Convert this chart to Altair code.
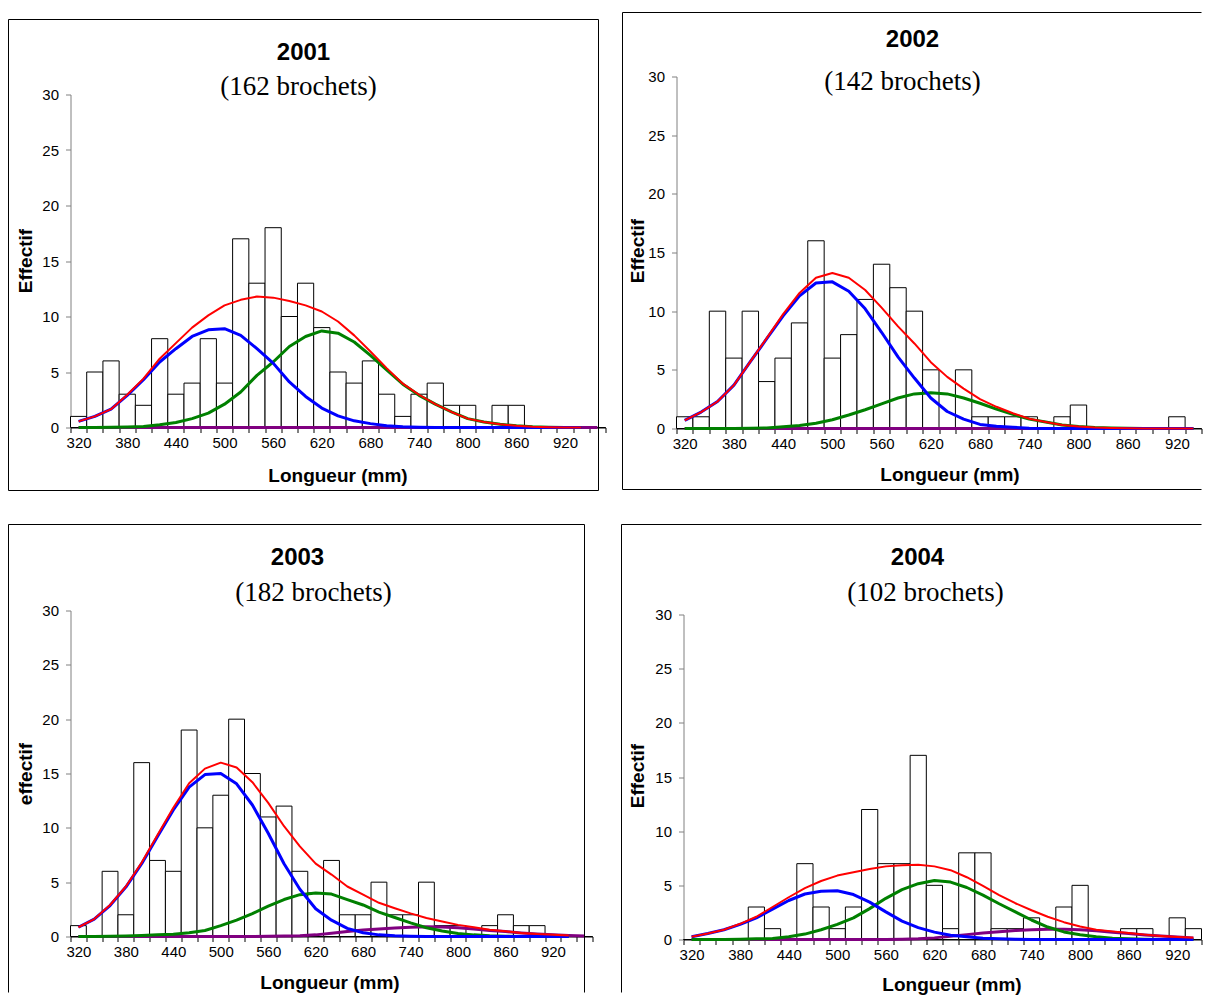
import altair as alt
import pandas as pd

# ---------------- data ----------------
CATS = [320, 340, 360, 380, 400, 420, 440, 460, 480, 500, 520, 540, 560, 580, 600, 620,
        640, 660, 680, 700, 720, 740, 760, 780, 800, 820, 840, 860, 880, 900, 920, 940, 960]

YEARS = ["2001", "2002", "2003", "2004"]
SUBTITLES = ["(162 brochets)", "(142 brochets)", "(182 brochets)", "(102 brochets)"]
YTITLES = ["Effectif", "Effectif", "effectif", "Effectif"]
XTITLE = "Longueur (mm)"
YTICKS = [0, 5, 10, 15, 20, 25, 30]

# 2001
N_2001 = [1, 5, 6, 3, 2, 8, 3, 4, 8, 4, 17, 13, 18, 10, 13, 9, 5, 4, 6, 3, 1, 3, 4, 2, 2, 0, 2, 2, 0, 0, 0, 0, 0]
BLUE_2001 = [0.55, 1.0, 1.65, 2.9, 4.3, 5.9, 7.1, 8.2, 8.8, 8.9, 8.3, 7.1, 5.8, 4.1, 2.8, 1.75, 1.05, 0.6, 0.35,
             0.15, 0.07, 0.03, 0.01, 0, 0, 0, 0, 0, 0, 0, 0, 0]
GREEN_2001 = [0, 0, 0.02, 0.05, 0.1, 0.25, 0.45, 0.8, 1.3, 2.1, 3.2, 4.7, 5.9, 7.3, 8.2, 8.7, 8.5, 7.7, 6.5, 5.2,
              3.9, 2.9, 2.1, 1.4, 0.8, 0.5, 0.3, 0.15, 0.07, 0.03, 0.01, 0]
PURPLE_2001 = [0] * 33
RED_2001 = [0.55, 1.0, 1.65, 2.95, 4.4, 6.2, 7.6, 9.0, 10.1, 11.0, 11.5, 11.8, 11.7, 11.4, 11.0, 10.45, 9.55, 8.3,
            6.85, 5.35, 3.95, 2.95, 2.1, 1.4, 0.8, 0.5, 0.3, 0.15, 0.07, 0.03, 0.01, 0]

# 2002
N_2002 = [1, 1, 10, 6, 10, 4, 6, 9, 16, 6, 8, 11, 14, 12, 10, 5, 0, 5, 1, 1, 1, 1, 0, 1, 2, 0, 0, 0, 0, 0, 1, 0]
BLUE_2002 = [0.7, 1.4, 2.3, 3.7, 5.7, 7.65, 9.6, 11.3, 12.4, 12.5, 11.7, 10.2, 8.2, 6.1, 4.3, 2.6, 1.45, 0.8, 0.35,
             0.2, 0.1, 0.03, 0, 0, 0, 0, 0, 0, 0, 0, 0, 0]
GREEN_2002 = [0, 0, 0, 0.01, 0.02, 0.05, 0.15, 0.25, 0.45, 0.75, 1.15, 1.6, 2.1, 2.6, 2.95, 3.05, 2.95, 2.6, 2.15,
              1.65, 1.2, 0.8, 0.55, 0.3, 0.17, 0.08, 0.04, 0.02, 0.01, 0, 0, 0]
PURPLE_2002 = [0] * 32
RED_2002 = [0.7, 1.4, 2.3, 3.7, 5.7, 7.7, 9.75, 11.55, 12.85, 13.25, 12.85, 11.8, 10.3, 8.7, 7.25, 5.65, 4.4, 3.4,
            2.5, 1.85, 1.3, 0.83, 0.55, 0.3, 0.17, 0.08, 0.04, 0.02, 0.01, 0, 0, 0]

# 2003
N_2003 = [1, 0, 6, 2, 16, 7, 6, 19, 10, 13, 20, 15, 11, 12, 6, 4, 7, 2, 2, 5, 2, 2, 5, 1, 1, 0, 1, 2, 1, 1, 0, 0, 0]
BLUE_2003 = [0.85, 1.6, 2.85, 4.55, 6.7, 9.2, 11.65, 13.75, 14.9, 15.0, 14.05, 12.1, 9.5, 6.7, 4.35, 2.55, 1.5,
             0.75, 0.35, 0.15, 0.07, 0.03, 0, 0, 0, 0, 0, 0, 0, 0, 0, 0]
GREEN_2003 = [0, 0, 0.02, 0.05, 0.1, 0.15, 0.2, 0.35, 0.55, 1.0, 1.5, 2.1, 2.8, 3.4, 3.85, 4.0, 3.9, 3.4, 2.9, 2.25,
              1.75, 1.25, 0.8, 0.5, 0.27, 0.15, 0.07, 0.03, 0.01, 0, 0, 0]
PURPLE_2003 = [0, 0, 0, 0, 0, 0, 0, 0, 0, 0, 0, 0, 0.02, 0.05, 0.08, 0.15, 0.3, 0.45, 0.6, 0.7, 0.78, 0.85, 0.9,
               0.88, 0.8, 0.7, 0.55, 0.45, 0.32, 0.22, 0.15, 0.1, 0.05]
RED_2003 = [0.85, 1.6, 2.9, 4.6, 6.8, 9.35, 11.85, 14.1, 15.45, 16.0, 15.55, 14.2, 12.3, 10.15, 8.3, 6.7, 5.7, 4.6,
            3.85, 3.1, 2.6, 2.13, 1.7, 1.38, 1.07, 0.85, 0.62, 0.48, 0.33, 0.22, 0.15, 0.1]

# 2004
N_2004 = [0, 0, 0, 0, 3, 1, 0, 7, 3, 1, 3, 12, 7, 7, 17, 5, 1, 8, 8, 1, 1, 2, 1, 3, 5, 0, 0, 1, 1, 0, 2, 1]
BLUE_2004 = [0.25, 0.55, 0.9, 1.4, 2.0, 2.8, 3.6, 4.2, 4.45, 4.5, 4.15, 3.45, 2.55, 1.7, 1.1, 0.68, 0.4, 0.25, 0.12,
             0.06, 0.03, 0.01, 0, 0, 0, 0, 0, 0, 0, 0, 0, 0]
GREEN_2004 = [0, 0, 0.01, 0.03, 0.06, 0.1, 0.25, 0.5, 0.9, 1.4, 2.0, 2.85, 3.8, 4.6, 5.15, 5.45, 5.3, 4.8, 4.1, 3.3,
              2.55, 1.8, 1.15, 0.7, 0.43, 0.25, 0.12, 0.06, 0.03, 0.01, 0, 0]
PURPLE_2004 = [0, 0, 0, 0, 0, 0, 0, 0, 0, 0, 0, 0, 0, 0.02, 0.06, 0.15, 0.3, 0.45, 0.6, 0.72, 0.82, 0.9, 0.95, 0.95,
               0.9, 0.8, 0.68, 0.55, 0.42, 0.32, 0.23, 0.15]
RED_2004 = [0.25, 0.55, 0.9, 1.45, 2.1, 3.0, 3.9, 4.75, 5.4, 5.9, 6.2, 6.5, 6.75, 6.85, 6.9, 6.75, 6.4, 5.75, 4.95,
            4.1, 3.35, 2.7, 2.1, 1.6, 1.2, 0.9, 0.75, 0.6, 0.45, 0.33, 0.23, 0.16]

COLORS = {"purple": "#800080", "green": "#008000", "blue": "#0000FF", "red": "#FF0000"}
WIDTHS = {"purple": 3, "green": 3, "blue": 3, "red": 2}

SANS = "Liberation Sans"
SERIF = "Liberation Serif"


def one(val=0):
    return pd.DataFrame({"d": [val]})


def panel(ncat, counts, series, year, sub, ytitle, g):
    cats = CATS[:ncat]
    xs_kw = dict(domain=cats, paddingInner=0, paddingOuter=0)
    if g.get("xrange"):
        xs_kw["range"] = g["xrange"]
    ys_kw = dict(domain=[0, 30])
    if g.get("yrange"):
        ys_kw["range"] = g["yrange"]
    xs = alt.Scale(**xs_kw)
    ys = alt.Scale(**ys_kw)

    xaxis = alt.Axis(
        title=XTITLE, titleFont=SANS, titleFontSize=19, titleFontWeight="bold", titleColor="black",
        titleX=g["xt"][0], titleY=g["xt"][1], titleAlign="center", titleBaseline="middle", titleAngle=0,
        labelExpr="datum.value % 60 == 20 ? datum.label : ''", labelAngle=0, labelOverlap=False,
        labelFont=SANS, labelFontSize=15, labelColor="black", labelPadding=3,
        tickBand="extent", tickSize=5, tickColor="black", domainColor="black", grid=False,
    )
    yaxis_kw = dict(
        values=YTICKS, title=ytitle, titleFont=SANS, titleFontSize=19, titleFontWeight="bold",
        titleColor="black", titleAngle=270, titleX=g["yt"][0], titleY=g["yt"][1], titleAlign="center",
        titleBaseline="middle", labelFont=SANS, labelFontSize=15, labelColor="black", labelPadding=7,
        tickSize=5, tickColor="#808080", domainColor="#808080", grid=False,
    )
    if g.get("yoffset"):
        yaxis_kw["offset"] = g["yoffset"]
    yaxis = alt.Axis(**yaxis_kw)

    bars_df = pd.DataFrame({"L": cats, "n": counts})
    bars = alt.Chart(bars_df).mark_bar(fill="white", stroke="black", strokeWidth=1).encode(
        x=alt.X("L:O", scale=xs, axis=xaxis),
        y=alt.Y("n:Q", scale=ys, axis=yaxis),
    )
    layers = [bars]
    for name in ["purple", "green", "blue", "red"]:
        vals = series[name]
        df = pd.DataFrame({"L": cats[:len(vals)], "v": vals})
        layers.append(
            alt.Chart(df).mark_line(color=COLORS[name], strokeWidth=WIDTHS[name], strokeJoin="round").encode(
                x=alt.X("L:O", scale=xs, axis=xaxis),
                y=alt.Y("v:Q", scale=ys, axis=yaxis),
            )
        )
    # titles
    layers.append(
        alt.Chart(pd.DataFrame({"t": [year]})).mark_text(
            font=SANS, fontSize=24, fontWeight="bold", align="center", baseline="middle", color="black"
        ).encode(text="t:N", x=alt.value(g["title"][0]), y=alt.value(g["title"][1]))
    )
    layers.append(
        alt.Chart(pd.DataFrame({"t": [sub]})).mark_text(
            font=SERIF, fontSize=27, align="center", baseline="middle", color="black"
        ).encode(text="t:N", x=alt.value(g["sub"][0]), y=alt.value(g["sub"][1]))
    )
    # frame
    if g.get("rect"):
        x1, x2, y1, y2 = g["rect"]
        layers.append(
            alt.Chart(one()).mark_rect(fill="transparent", stroke="black", strokeWidth=1).encode(
                x=alt.value(x1), x2=alt.value(x2), y=alt.value(y1), y2=alt.value(y2)
            )
        )
    for (x1, x2, y1, y2) in g.get("rules", []):
        layers.append(
            alt.Chart(one()).mark_rule(color="black", strokeWidth=1).encode(
                x=alt.value(x1), x2=alt.value(x2), y=alt.value(y1), y2=alt.value(y2)
            )
        )
    return alt.layer(*layers).properties(width=g["W"], height=g["H"])


g1 = dict(W=535, H=351, yrange=[351, 18], title=(233, -24), sub=(228, 10), yt=(-45, 184), xt=(267, 48),
          rect=(-62, 528, -57, 414))
g2 = dict(W=525, H=352, title=(236, -37), sub=(226, 5), yt=(-39, 174), xt=(273, 46),
          rules=[(-54, -54, -64, 413), (-54, 525, -64, -64), (-54, 525, 413, 413)])
g3 = dict(W=522, H=326, title=(227, -53), sub=(243, -18), yt=(-45, 163), xt=(259, 46),
          rules=[(-62, -62, -86, 382), (-62, 514, -86, -86), (514, 514, -86, 382)])
g4 = dict(W=525, H=329, xrange=[7, 525], yrange=[329, 4], yoffset=-7, title=(241, -53), sub=(249, -18),
          yt=(-46, 165), xt=(275, 45),
          rules=[(-55, -55, -86, 382), (-55, 525, -86, -86)])

p1 = panel(33, N_2001, {"blue": BLUE_2001, "green": GREEN_2001, "purple": PURPLE_2001, "red": RED_2001},
           YEARS[0], SUBTITLES[0], YTITLES[0], g1)
p2 = panel(32, N_2002, {"blue": BLUE_2002, "green": GREEN_2002, "purple": PURPLE_2002, "red": RED_2002},
           YEARS[1], SUBTITLES[1], YTITLES[1], g2)
p3 = panel(33, N_2003, {"blue": BLUE_2003, "green": GREEN_2003, "purple": PURPLE_2003, "red": RED_2003},
           YEARS[2], SUBTITLES[2], YTITLES[2], g3)
p4 = panel(32, N_2004, {"blue": BLUE_2004, "green": GREEN_2004, "purple": PURPLE_2004, "red": RED_2004},
           YEARS[3], SUBTITLES[3], YTITLES[3], g4)

chart = alt.concat(p1, p2, p3, p4, columns=2, spacing={"row": 32, "column": 14}).properties(
    padding={"left": 7.5, "top": 11.5, "right": 0, "bottom": 0},
    background="white",
).configure_view(strokeWidth=0)

chart.save("out.html", embed_options={"renderer": "svg", "actions": False})
